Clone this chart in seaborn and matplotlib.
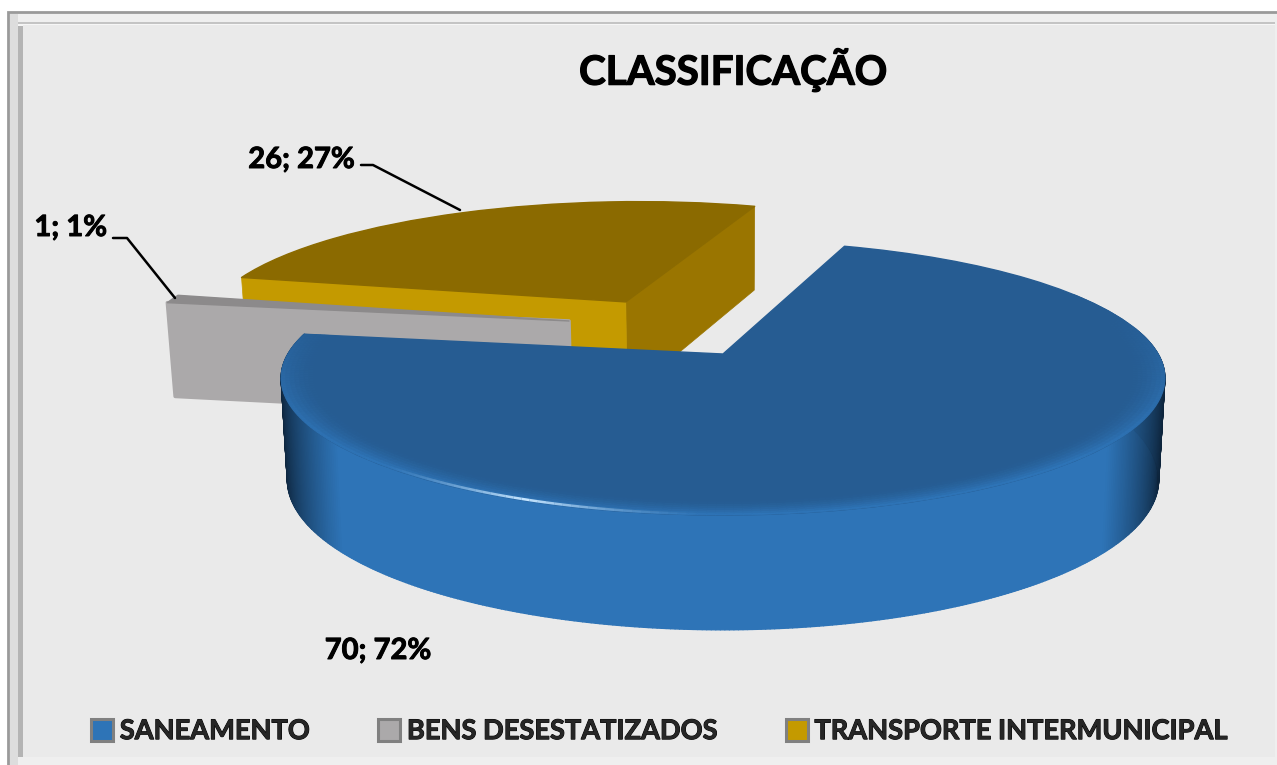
import numpy as np
import matplotlib
matplotlib.use("Agg")
import matplotlib.pyplot as plt
import matplotlib.transforms as mtransforms
import matplotlib.patheffects as pe
from matplotlib.collections import PolyCollection, LineCollection
from matplotlib.colors import to_rgb
from matplotlib.patches import Rectangle, Patch
import seaborn as sns

# ---- data ----
categories = ["SANEAMENTO", "BENS DESESTATIZADOS", "TRANSPORTE INTERMUNICIPAL"]
values = [70, 1, 26]
title = "CLASSIFICAÇÃO"

# ---- styles ----
top_colors = ["#265C92", "#8C8A8B", "#8B6A00"]
front_colors = ["#2E74B7", "#ABA9AA", "#C49A00"]
right_colors = ["#2E74B7", "#8C8A8B", "#9A7500"]
legend_colors = ["#2E74B7", "#ABA9AA", "#C49A00"]

sns.set_theme(style="white")
plt.rcParams["font.family"] = ["Lato", "DejaVu Sans"]

# camera of the tilted pie (pixels of the figure)
AX, AY = 723.0, 354.0
RX, RY, K, DEPTH = 435.0, 132.8, 0.175, 99.0
slice_shift = [(0.0, 0.0), (-0.37, 0.26), (-0.24, 0.421)]
slice_scale = [1.0, 1.012, 1.015]


class Tilt(mtransforms.Transform):
    """Perspective view of the unit-circle pie."""
    input_dims = 2
    output_dims = 2
    is_separable = False
    has_inverse = False

    def __init__(self, shift=(0, 0), scale=1.0, drop=0.0):
        super().__init__()
        self.shift, self.scale, self.drop = shift, scale, drop

    def transform_non_affine(self, pts):
        pts = np.asarray(pts, float)
        x = pts[:, 0] * self.scale + self.shift[0]
        y = pts[:, 1] * self.scale + self.shift[1]
        w = 1 + K * y
        narrow = 0.986 if self.drop else 1.0
        return np.column_stack([AX + narrow * RX * x / w,
                                AY - RY * y / w + self.drop / w ** 0.77])


def lerp(a, b, t):
    return tuple(np.array(to_rgb(a)) * (1 - t) + np.array(to_rgb(b)) * t)


def unit(deg, r=1.0):
    t = np.radians(deg)
    return np.column_stack([r * np.cos(t), r * np.sin(t)])


fig = plt.figure(figsize=(12.77, 7.65), dpi=100, facecolor="white")
ax = fig.add_axes([0, 0, 1, 1])

wedges, _ = ax.pie(values, colors=top_colors, startangle=71, counterclock=False, radius=1.0,
                   wedgeprops=dict(linewidth=0))
ax.set_aspect("auto")
ax.set_xlim(0, 1277)
ax.set_ylim(765, 0)
ax.axis("off")

# ---- frame ----
ax.add_patch(Rectangle((7.5, 11.5), 1270, 760, fc="#EFEFEF", ec="#9A9A9A", lw=2, zorder=0.1))
ax.add_patch(Rectangle((10, 14), 8, 751, fc="#DDDDDD", ec="none", zorder=0.2))
ax.add_patch(Rectangle((18, 22), 5, 735, fc="#B4B4B4", ec="none", zorder=0.3))
ax.add_patch(Rectangle((18, 22), 1257, 2, fc="#C4C4C4", ec="none", zorder=0.3))
ax.add_patch(Rectangle((18, 24), 1257, 1.5, fc="#F6F6F6", ec="none", zorder=0.3))
ax.add_patch(Rectangle((23, 25), 1252, 732, fc="#EAEAEA", ec="none", zorder=0.4))

# ---- slices: back to front ----
draw_order = [2, 1, 0]
z = 1.0
for idx in draw_order:
    w = wedges[idx]
    tr = Tilt(slice_shift[idx], slice_scale[idx])
    down = Tilt(slice_shift[idx], slice_scale[idx], DEPTH)
    if idx != 0:
        # radial cut faces
        faces = [(w.theta1, right_colors[idx])] if idx == 2 else []
        faces.append((w.theta2, front_colors[idx]))
        for ang, col in faces:
            pts = np.vstack([[0.0, 0.0], unit(np.array([ang]))])
            upper = tr.transform_non_affine(pts)
            lower = down.transform_non_affine(pts)
            ax.fill(*np.vstack([upper, lower[::-1]]).T, fc=col, ec=col, lw=2.5 if idx == 1 else 0.5,
                    joinstyle="round", zorder=z)
            z += 0.01
    else:
        # rounded wall of the big slice, shaded along the screen
        th = np.concatenate([np.arange(w.theta1, 0.0, 0.5), np.arange(0.0, 12.0, 0.5)])
        upper = tr.transform_non_affine(unit(th))
        lower = down.transform_non_affine(unit(th))
        polys, cols = [], []
        for i in range(len(th) - 1):
            polys.append([upper[i], upper[i + 1], lower[i + 1], lower[i]])
            t = abs((upper[i, 0] + upper[i + 1, 0]) / 2 - AX) / 442.0
            s = np.clip((1 - t) / 0.13, 0, 1) ** 0.65
            cols.append(lerp("#0C2238", front_colors[0], s))
        ax.add_collection(PolyCollection(polys, facecolors=cols, edgecolors=cols, lw=1.0, zorder=z))
        z += 0.01
    w.set_transform(tr + ax.transData)
    w.set_edgecolor(top_colors[idx])
    w.set_linewidth(1.0)
    w.set_joinstyle("round")
    w.set_zorder(z)
    z += 0.01

# ---- soft bevel and highlight along the front rim of the big slice ----
w = wedges[0]
tr = Tilt(slice_shift[0], slice_scale[0])
rad = np.linspace(1.0, 0.93, 8)
ang = np.concatenate([np.arange(w.theta1, 0.0, 1.0), np.arange(0.0, 30.0, 1.0)])
polys, cols = [], []
for j in range(len(rad) - 1):
    a = tr.transform_non_affine(unit(ang, rad[j]))
    b = tr.transform_non_affine(unit(ang, rad[j + 1]))
    for i in range(len(ang) - 1):
        polys.append([a[i], a[i + 1], b[i + 1], b[i]])
        front = np.clip(-np.sin(np.radians(ang[i])) + 0.3, 0, 1)
        cols.append(lerp(top_colors[0], front_colors[0], (1 - j / 7) ** 1.5 * front))
ax.add_collection(PolyCollection(polys, facecolors=cols, edgecolors=cols, lw=0.6, zorder=z))
z += 0.01

hl = np.arange(-134.0, -91.0, 1.0)
rim = tr.transform_non_affine(unit(hl, 0.995))
segs = np.stack([rim[:-1], rim[1:]], axis=1)
alpha = np.clip(1 - np.abs(hl[:-1] + 113) / 21, 0, 1) ** 1.6
ax.add_collection(LineCollection(segs, colors=[(0.78, 0.9, 1.0, a) for a in alpha], lw=1.8, zorder=z))
z += 0.01

# ---- texts ----
heavy = [pe.withStroke(linewidth=0.7, foreground="black")]
total = sum(values)
labels = [f"{v}; {round(100 * v / total)}%" for v in values]
lab_font = dict(fontsize=21, fontweight="bold", color="black", zorder=5, path_effects=heavy)
ax.text(378, 651, labels[0], ha="center", va="center", **lab_font)
ax.text(107, 228, labels[1], ha="right", va="center", **lab_font)
ax.text(355, 160, labels[2], ha="right", va="center", **lab_font)
ax.plot([113, 127, 175], [238, 238, 298], color="black", lw=1.8, zorder=5)
ax.plot([361, 373, 460], [165, 165, 210], color="black", lw=1.8, zorder=5)

ax.text(733, 70, title, ha="center", va="center", fontsize=29, fontweight="bold", color="black",
        zorder=5, path_effects=[pe.withStroke(linewidth=0.9, foreground="black")])

handles = [Patch(facecolor=c, edgecolor="#808080", linewidth=2.2) for c in legend_colors]
leg = ax.legend(handles, categories, ncol=3, frameon=False, loc="center",
                bbox_to_anchor=(660 / 1277, 1 - 731 / 765),
                prop=dict(family="Lato", weight="bold", size=19.6),
                handlelength=0.8, handleheight=0.85, handletextpad=0.25, columnspacing=2.5)
leg.set_zorder(6)
for t in leg.get_texts():
    t.set_path_effects(heavy)

fig.savefig("out.png", dpi=100, facecolor="white")
